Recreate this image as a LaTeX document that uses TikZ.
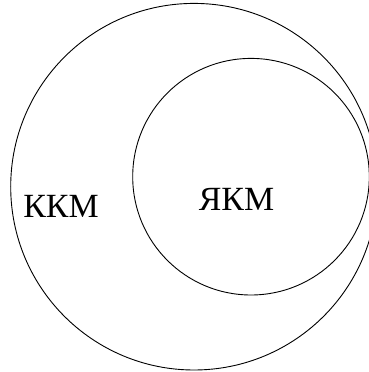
\documentclass[tikz,border=0pt]{standalone}
\usepackage{fontspec}
\setmainfont{Liberation Serif}
\usepackage{tikz}

\begin{document}
\begin{tikzpicture}[x=1bp,y=1bp,line width=0.9bp]
\useasboundingbox (0,0) rectangle (369,372);
\clip (0,0) rectangle (369,372);
\draw (194,185.3) circle (183.3);
\draw (251,195.3) circle (118.3);
\node[font=\fontsize{34}{40}\selectfont] (KKM) at (61,166) {ККМ};
\node[font=\fontsize{34}{40}\selectfont] (YaKM) at (236.5,173) {ЯКМ};
\end{tikzpicture}
\end{document}
